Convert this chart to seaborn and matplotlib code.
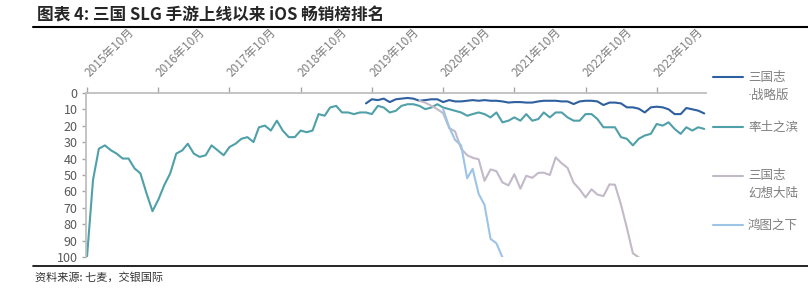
import numpy as np
import pandas as pd
import seaborn as sns
import matplotlib
matplotlib.use('Agg')
import matplotlib.pyplot as plt
from matplotlib.lines import Line2D

# monthly ranks, from 2015-10 to 2024-06 (105 months)
months = pd.date_range('2015-10-01', periods=105, freq='MS')

# 率土之滨: the whole span
rate_land = [100, 53, 34, 32, 35, 37, 40, 40, 46, 49, 61, 72, 65, 56, 49, 37, 35, 31,
             37, 39, 38, 32, 35, 38, 33, 31, 28, 27, 30, 21, 20, 23, 17, 23, 27, 27,
             23, 24, 23, 13, 14, 9, 8, 12, 12, 13, 12, 12, 13, 8, 9, 12, 11, 8,
             7, 7, 8, 10, 9, 7, 9, 10, 11, 12, 14, 13, 12, 13, 15, 12, 18, 17,
             15, 17, 13, 17, 16, 12, 15, 12, 12, 15, 17, 17, 13, 13, 16, 21, 21, 21,
             27, 28, 32, 28, 26, 25, 19, 20, 18, 22, 25, 21, 23, 21, 22]

# 三国志·战略版: from 2019-09 (month 47)
zlb_start = 47
zlb = [6.5, 4, 4.5, 3.6, 5.7, 4, 3.6, 3.2, 3.6, 4.9, 4.5, 4, 4, 5.7, 4.5, 5.3, 5.3,
       4.9, 4.5, 4.9, 4.5, 4.9, 4.9, 5.3, 6, 5.7, 5.7, 6, 6, 5.3, 4.9, 4.9, 4.9,
       5.3, 5.3, 6.9, 5.3, 4.9, 4.9, 5.3, 7.5, 6, 6, 6.5, 8.9, 8.9, 9.7, 12, 8.9,
       8.5, 8.9, 10.1, 13, 13, 9.3, 10.1, 10.9, 12.6]

# 三国志幻想大陆: from 2020-06 (month 56)
hx_start = 56
hx = [5, 6, 8, 10, 12.5, 21.5, 23.5, 34, 38, 39.5, 40.5, 53.5, 46.6, 47.7, 54.5,
      56.3, 49.5, 58.3, 50.5, 51.7, 48.7, 48.6, 50, 39.3, 42.9, 45.7, 54.7, 58.7,
      63.6, 58.7, 61.9, 62.8, 55.7, 55.9, 68, 82, 97.6, 100]

# 鸿图之下: from 2020-10 (month 60)
ht_start = 60
ht = [10, 21, 28.7, 32, 52, 46.3, 61.5, 68.2, 88.8, 91.5, 100]

names = ['三国志·战略版', '率土之滨', '三国志幻想大陆', '鸿图之下']
colors = ['#2e5f9f', '#4fa0a8', '#c2b9c9', '#9dc3e6']
tick_dates = pd.date_range('2015-10-01', '2023-10-01', freq='12MS')
tick_labels = [f'{d.year}年10月' for d in tick_dates]


def pad_series(vals, start):
    out = [np.nan] * len(months)
    out[start:start + len(vals)] = vals
    return out


wide = pd.DataFrame({
    names[0]: pad_series(zlb, zlb_start),
    names[1]: rate_land,
    names[2]: pad_series(hx, hx_start),
    names[3]: pad_series(ht, ht_start),
}, index=months)
long = wide.reset_index(names='month').melt('month', var_name='game', value_name='rank').dropna()

sns.set_style('white')
plt.rcParams['font.family'] = ['Noto Sans CJK SC', 'DejaVu Sans']

fig = plt.figure(figsize=(8.08, 2.94), dpi=100)
ax = fig.add_axes([86 / 808, 1 - 257.3 / 294, 620 / 808, 164.6 / 294])

sns.lineplot(data=long, x='month', y='rank', hue='game', hue_order=names,
             palette=colors, linewidth=1.5, legend=False, ax=ax)

ax.set_ylim(100, 0)
ax.set_yticks(range(0, 101, 10))
ax.set_xlim(pd.Timestamp('2015-09-26'), pd.Timestamp('2024-06-10'))
ax.xaxis.tick_top()
ax.set_xticks(tick_dates)
ax.set_xticklabels(tick_labels, rotation=45, ha='left', va='center',
                   rotation_mode='anchor', fontsize=8.5, color='#7f7f7f')
ax.tick_params(axis='x', top=True, length=4, width=1, color='#a6a6a6', pad=9)
ax.tick_params(axis='y', left=True, length=3, width=1, color='#a6a6a6', pad=3,
               labelsize=9, labelcolor='#595959')
ax.set_xlabel('')
ax.set_ylabel('')
for side in ['right', 'bottom']:
    ax.spines[side].set_visible(False)
for side in ['left', 'top']:
    ax.spines[side].set_color('#bfbfbf')
    ax.spines[side].set_linewidth(1.3)

# legend on the right
leg_y = [77, 127, 176, 225]
leg_text = [['三国志', '·战略版'], ['率土之滨'], ['三国志', '幻想大陆'], ['鸿图之下']]
for y, txt, c in zip(leg_y, leg_text, colors):
    fy = 1 - y / 294
    fig.add_artist(Line2D([713 / 808, 743 / 808], [fy, fy], color=c, lw=1.5,
                          transform=fig.transFigure))
    for i, t in enumerate(txt):
        fam = ['DejaVu Sans', 'Noto Sans CJK SC'] if t.startswith('·') else None
        fig.text(748 / 808, 1 - (y + 18 * i) / 294, t, fontsize=9,
                 color='#7f7f7f', va='center', ha='left', family=fam)

# title, rules and source
fig.text(37 / 808, 1 - 15 / 294, '图表 4: 三国 SLG 手游上线以来 iOS 畅销榜排名',
         fontsize=12, fontweight='bold', va='center', ha='left')
fig.add_artist(Line2D([33 / 808, 1], [1 - 26.7 / 294] * 2, color='black', lw=1.5,
                      transform=fig.transFigure))
fig.add_artist(Line2D([33 / 808, 1], [1 - 266 / 294] * 2, color='black', lw=1.2,
                      transform=fig.transFigure))
fig.text(35 / 808, 1 - 277 / 294, '资料来源: 七麦，交银国际', fontsize=8,
         color='#333333', va='center', ha='left', style='italic')

fig.savefig('out.png', dpi=100)
